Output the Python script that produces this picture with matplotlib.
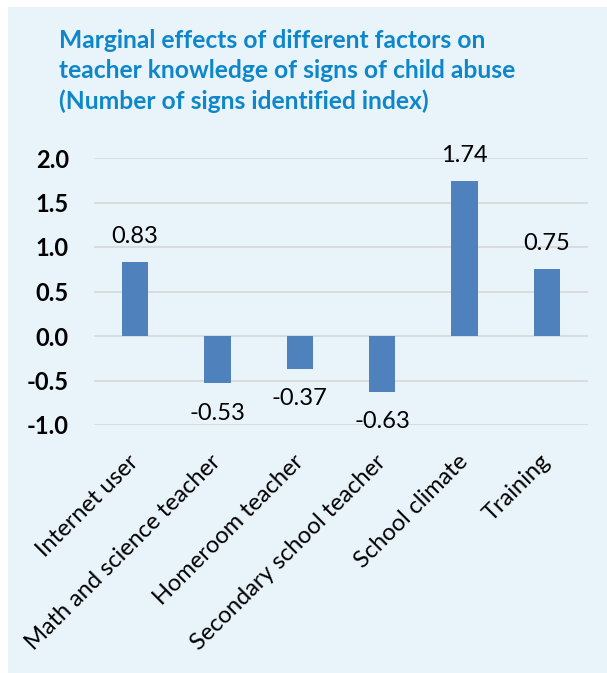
import matplotlib
matplotlib.use("Agg")
import matplotlib.pyplot as plt
from matplotlib.patches import Rectangle

categories = ["Internet user", "Math and science teacher", "Homeroom teacher",
              "Secondary school teacher", "School climate", "Training"]
values = [0.83, -0.53, -0.37, -0.63, 1.74, 0.75]
value_labels = ["0.83", "-0.53", "-0.37", "-0.63", "1.74", "0.75"]
yticks = [-1.0, -0.5, 0.0, 0.5, 1.0, 1.5, 2.0]
ytick_labels = ["-1.0", "-0.5", "0.0", "0.5", "1.0", "1.5", "2.0"]
title = ("Marginal effects of different factors on\n"
         "teacher knowledge of signs of child abuse\n"
         "(Number of signs identified index)")

plt.rcParams['font.family'] = ['Lato', 'DejaVu Sans']

W, H = 607, 673
fig = plt.figure(figsize=(W / 100, H / 100), dpi=100)
fig.patch.set_facecolor("white")
bg = "#E8F3FA"
fig.patches.append(Rectangle((8 / W, 0), 1 - 8 / W, 1 - 7 / H,
                             transform=fig.transFigure, facecolor=bg,
                             edgecolor="none", zorder=-10))

ax = fig.add_axes([94 / W, 1 - 425 / H, (588 - 94) / W, (425 - 158) / H])
ax.set_facecolor("none")
x = list(range(len(categories)))
ax.bar(x, values, width=0.32, color="#4F81BD", zorder=3)
ax.set_xlim(-0.5, len(categories) - 0.5)
ax.set_ylim(-1.0, 2.0)
ax.set_yticks(yticks)
ax.set_yticklabels(ytick_labels, fontsize=17, fontweight="bold")
ax.yaxis.grid(True, color="#D9D9D9", linewidth=1.3, zorder=0)
ax.set_axisbelow(True)
for s in ax.spines.values():
    s.set_visible(False)
ax.tick_params(axis="both", length=0)
ax.tick_params(axis="y", pad=18)
ax.set_xticks(x)
ax.set_xticklabels(categories, rotation=45, ha="right", va="center",
                   rotation_mode="anchor", fontsize=17)
ax.tick_params(axis="x", pad=24)

for xi, v, lab in zip(x, values, value_labels):
    off = 18.5 if v >= 0 else -21.5
    ax.annotate(lab, (xi, v), xytext=(0, off), textcoords="offset points",
                ha="center", va="center", fontsize=17)

fig.text(59 / W, 1 - 29 / H, title, ha="left", va="top", fontsize=17.7,
         fontweight="bold", color="#0E86CA", linespacing=1.38)

fig.savefig("out.png", dpi=100)
